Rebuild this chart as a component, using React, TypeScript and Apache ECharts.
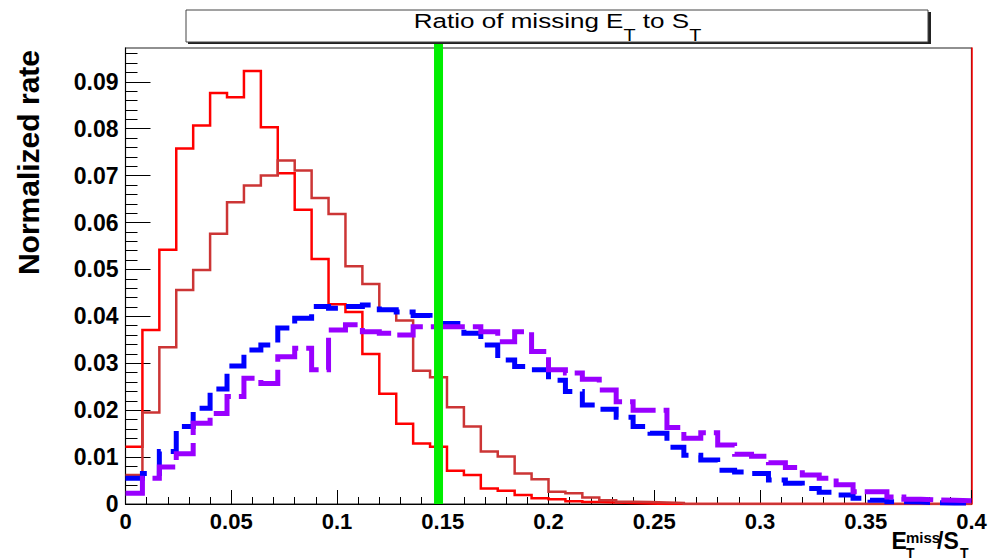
import React, { useEffect, useRef } from "react";
import * as echarts from "echarts";

// ---- data (50 bins of width 0.008 on [0, 0.4]) ----
const BIN_WIDTH = 0.008;
const X_MIN = 0;
const X_MAX = 0.4;
const Y_MAX = 0.0972;
const CUT_VALUE = 0.148;
const CUT_TOP = 0.099;

const redHist = [
  0.0122, 0.0371, 0.0542, 0.0758, 0.0807, 0.0876, 0.0867, 0.0923, 0.0803, 0.0705,
  0.0627, 0.0522, 0.0426, 0.0409, 0.032, 0.0235, 0.0171, 0.0129, 0.0122, 0.0071,
  0.0062, 0.0033, 0.0028, 0.0019, 0.0012, 0.001, 0.0006, 0.0004, 0.0003, 0.0002,
  0.0001, 0, 0, 0, 0, 0, 0, 0, 0, 0,
  0, 0, 0, 0, 0, 0, 0, 0, 0, 0,
];
const darkRedHist = [
  0.0062, 0.0195, 0.0334, 0.0456, 0.0499, 0.0576, 0.0643, 0.0679, 0.07, 0.0732,
  0.0711, 0.0652, 0.0618, 0.0507, 0.0469, 0.0412, 0.0391, 0.0284, 0.027, 0.0206,
  0.0165, 0.0112, 0.0101, 0.0065, 0.0053, 0.0026, 0.0023, 0.0014, 0.0008, 0.0005,
  0.0004, 0.0003, 0.0002, 0, 0, 0, 0, 0, 0, 0,
  0, 0, 0, 0, 0, 0, 0, 0, 0, 0,
];
const blueHist = [
  0.0055, 0.0065, 0.0112, 0.0165, 0.0204, 0.0245, 0.0294, 0.0328, 0.0339, 0.0375,
  0.0396, 0.0421, 0.0417, 0.0421, 0.0424, 0.0414, 0.0409, 0.0402, 0.0385, 0.0385,
  0.0364, 0.0339, 0.0307, 0.0293, 0.0286, 0.0264, 0.024, 0.0211, 0.0202, 0.0185,
  0.0165, 0.0151, 0.0121, 0.0104, 0.0094, 0.0072, 0.0068, 0.0065, 0.0051, 0.0044,
  0.0033, 0.0025, 0.0019, 0.0012, 0.0008, 0.0005, 0.0004, 0.0003, 0.0002, 0.0002,
];
const purpleHist = [
  0.0023, 0.0055, 0.0079, 0.0107, 0.0172, 0.0193, 0.0229, 0.0268, 0.0257, 0.0314,
  0.0332, 0.0286, 0.0371, 0.0382, 0.0367, 0.0364, 0.036, 0.0378, 0.0378, 0.0378,
  0.0378, 0.0367, 0.0346, 0.0367, 0.0325, 0.0286, 0.0279, 0.0266, 0.0243, 0.0218,
  0.02, 0.02, 0.0163, 0.014, 0.0152, 0.0126, 0.0106, 0.0102, 0.0088, 0.0078,
  0.0062, 0.0055, 0.0041, 0.0026, 0.0026, 0.0015, 0.001, 0.0009, 0.0008, 0.0007,
];

const Y_MAJOR_TICKS = [0, 0.01, 0.02, 0.03, 0.04, 0.05, 0.06, 0.07, 0.08, 0.09];
const Y_MINOR_STEP = 0.002;

const FONT = "Liberation Sans";

function stepData(values: number[]) {
  const pts: number[][] = values.map((v, i) => [+(X_MIN + i * BIN_WIDTH).toFixed(4), v]);
  pts.push([X_MAX, values[values.length - 1]]);
  return pts;
}

function yMinorTicks() {
  const out: number[] = [];
  Y_MAJOR_TICKS.forEach((m) => {
    for (let k = 1; k < 5; k++) {
      const v = +(m + k * Y_MINOR_STEP).toFixed(4);
      if (v < Y_MAX) out.push(v);
    }
  });
  return out;
}

function fmt(v: number) {
  if (v === 0) return "0";
  return String(+v.toFixed(3));
}

export default function App() {
  const ref = useRef<HTMLDivElement>(null);
  useEffect(() => {
    if (!ref.current) return;
    const chart = echarts.init(ref.current, undefined, { renderer: "svg" });
    const histSeries = (
      name: string,
      data: number[],
      color: string,
      width: number,
      type: any,
      z: number
    ) => ({
      name,
      type: "line",
      step: "end",
      data: stepData(data),
      symbol: "none",
      showSymbol: false,
      z,
      lineStyle: { color, width, type, cap: "butt", join: "miter" },
      emphasis: { disabled: true },
    });
    const txt = (t: string, x: number, y: number, size: number) => ({
      type: "text",
      z: 12,
      x,
      y,
      style: {
        text: t,
        fontSize: size,
        fontWeight: "bold",
        fontFamily: FONT,
        fill: "#000",
        align: "left",
        verticalAlign: "middle",
      },
    });
    chart.setOption({
      animation: false,
      backgroundColor: "#ffffff",
      grid: {
        left: 125.5,
        right: 21.5,
        top: 48,
        bottom: 56,
        show: true,
        borderColor: "#222",
        borderWidth: 1.2,
        backgroundColor: "transparent",
      },
      xAxis: {
        type: "value",
        min: X_MIN,
        max: X_MAX,
        interval: 0.05,
        axisLine: { show: true, onZero: false, lineStyle: { color: "#000", width: 1 } },
        axisTick: { show: true, inside: true, length: 14, lineStyle: { color: "#000", width: 1 } },
        minorTick: { show: true, splitNumber: 5, length: 7, lineStyle: { color: "#000", width: 1 } },
        splitLine: { show: false },
        axisLabel: {
          formatter: fmt,
          fontSize: 22,
          fontWeight: "bold",
          fontFamily: FONT,
          color: "#000",
          margin: 6,
        },
      },
      yAxis: [
        {
          type: "value",
          min: 0,
          max: Y_MAX,
          position: "left",
          axisLine: { show: true, onZero: false, lineStyle: { color: "#000", width: 1 } },
          axisTick: {
            show: true,
            inside: true,
            length: 25,
            customValues: Y_MAJOR_TICKS,
            lineStyle: { color: "#000", width: 1 },
          },
          axisLabel: {
            customValues: Y_MAJOR_TICKS,
            formatter: fmt,
            fontSize: 23,
            fontWeight: "bold",
            fontFamily: FONT,
            color: "#000",
            margin: 7,
          },
          splitLine: { show: false },
        },
        {
          type: "value",
          min: 0,
          max: Y_MAX,
          position: "left",
          axisLine: { show: false },
          axisTick: {
            show: true,
            inside: true,
            length: 12,
            customValues: yMinorTicks(),
            lineStyle: { color: "#000", width: 1 },
          },
          axisLabel: { show: false },
          splitLine: { show: false },
        },
        {
          type: "value",
          min: 0,
          max: Y_MAX,
          position: "right",
          axisLine: { show: true, onZero: false, lineStyle: { color: "#ff0000", width: 1.5 } },
          axisTick: { show: false },
          axisLabel: { show: false },
          splitLine: { show: false },
        },
      ],
      series: [
        histSeries("signal A", redHist, "#ff0000", 2.5, "solid", 3),
        histSeries("signal B", darkRedHist, "#cc3535", 2.5, "solid", 4),
        histSeries("background A", blueHist, "#0000ff", 5, [26, 10], 5),
        histSeries("background B", purpleHist, "#9900ff", 5, [34, 8], 6),
        {
          name: "cut",
          type: "line",
          data: [
            [CUT_VALUE, 0],
            [CUT_VALUE, CUT_TOP],
          ],
          symbol: "none",
          clip: false,
          z: 8,
          lineStyle: { color: "#00ee00", width: 9, cap: "butt" },
          emphasis: { disabled: true },
        },
      ],
      graphic: [
        {
          type: "rect",
          z: 10,
          shape: { x: 188, y: 12, width: 743, height: 32 },
          style: { fill: "#222" },
        },
        {
          type: "rect",
          z: 11,
          shape: { x: 186, y: 10, width: 742, height: 32 },
          style: { fill: "#fff", stroke: "#444", lineWidth: 1 },
        },
        {
          type: "text",
          z: 12,
          x: 557.5,
          y: 20.8,
          scaleX: 1.24,
          style: {
            text: "Ratio of missing E{s|T} to S{s|T}",
            fontSize: 21,
            fontFamily: FONT,
            fill: "#000",
            lineHeight: 46,
            align: "center",
            verticalAlign: "middle",
            rich: {
              s: { fontSize: 16, fontFamily: FONT, fill: "#000", lineHeight: 18, verticalAlign: "bottom" },
            },
          },
        },
        {
          type: "text",
          z: 12,
          x: 28,
          y: 50,
          rotation: Math.PI / 2,
          style: {
            text: "Normalized rate",
            fontSize: 30,
            fontWeight: "bold",
            fontFamily: FONT,
            fill: "#000",
            align: "right",
            verticalAlign: "middle",
          },
        },
        txt("E", 891.5, 541, 23),
        txt("miss", 906, 537.5, 15),
        txt("T", 906, 553, 14),
        txt("/S", 937, 541, 23),
        txt("T", 960, 553, 14),
      ],
    });
    return () => chart.dispose();
  }, []);
  return (
    <div
      ref={ref}
      style={{ position: "fixed", left: 0, top: 0, width: 993, height: 560, background: "#fff" }}
    />
  );
}
